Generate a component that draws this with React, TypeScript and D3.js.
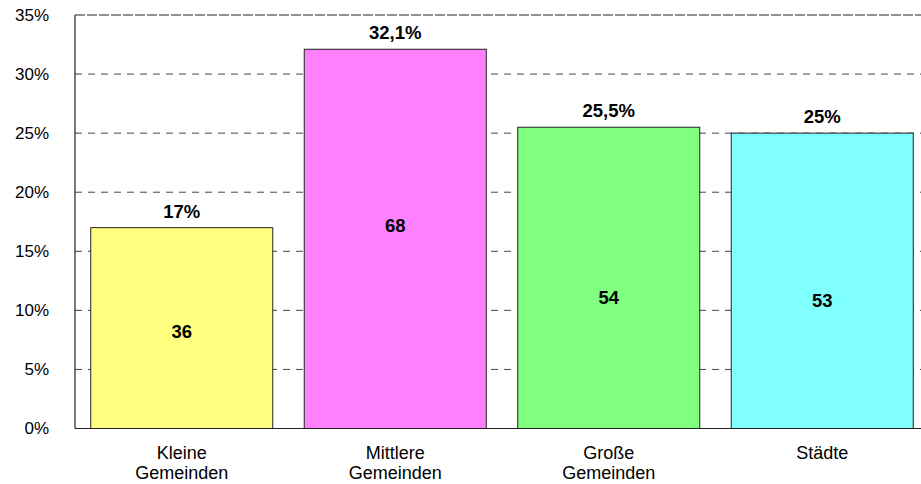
import React from "react";
import * as d3 from "d3";

const categories: string[][] = [
  ["Kleine", "Gemeinden"],
  ["Mittlere", "Gemeinden"],
  ["Große", "Gemeinden"],
  ["Städte"],
];
const percentValues: number[] = [17, 32.1, 25.5, 25];
const percentLabels: string[] = ["17%", "32,1%", "25,5%", "25%"];
const countValues: number[] = [36, 68, 54, 53];
// vertical position of the count labels, in percent units of the y axis
const countLabelPos: number[] = [8.2, 17.2, 11.05, 10.85];
const barColors: string[] = ["#FFFF80", "#FF80FF", "#80FF80", "#80FFFF"];
const yTicks: number[] = [0, 5, 10, 15, 20, 25, 30, 35];

export default function App() {
  const W = 921;
  const H = 484;
  const left = 75;
  const right = 929;
  const top = 15;
  const bottom = 428.5;

  const x = d3
    .scaleBand<number>()
    .domain(d3.range(categories.length))
    .range([left, right])
    .paddingInner(0.1475)
    .paddingOuter(0.07375);
  const y = d3.scaleLinear().domain([0, 35]).range([bottom, top]);

  const font = "Arial, 'Liberation Sans', Helvetica, sans-serif";

  return (
    <svg
      width={W}
      height={H}
      style={{ position: "absolute", left: 0, top: 0, background: "#fff" }}
      fontFamily={font}
    >
      {/* gridlines */}
      {yTicks.filter((t) => t > 0).map((t) => (
        <line
          key={t}
          x1={left}
          x2={W}
          y1={y(t)}
          y2={y(t)}
          stroke={t === 35 ? "#222" : "#444"}
          strokeWidth={1}
          strokeDasharray={t === 35 ? "10,2" : "7,6"}
        />
      ))}
      {/* bars */}
      {percentValues.map((v, i) => (
        <rect
          key={i}
          x={x(i)!}
          y={y(v)}
          width={x.bandwidth()}
          height={y(0) - y(v)}
          fill={barColors[i]}
          stroke="#222"
          strokeWidth={1}
        />
      ))}
      {/* axes */}
      <line x1={left} x2={left} y1={top} y2={bottom} stroke="#222" strokeWidth={1.2} />
      <line x1={left} x2={W} y1={bottom} y2={bottom} stroke="#222" strokeWidth={1.2} />
      {/* y tick labels */}
      {yTicks.map((t) => (
        <text
          key={t}
          x={49}
          y={y(t)}
          dy="0.35em"
          textAnchor="end"
          fontSize={17}
          fill="#000"
        >
          {t}%
        </text>
      ))}
      {/* percent labels */}
      {percentValues.map((v, i) => (
        <text
          key={i}
          x={x(i)! + x.bandwidth() / 2}
          y={y(v) - 10}
          textAnchor="middle"
          fontSize={18.5}
          fontWeight="bold"
          fill="#000"
        >
          {percentLabels[i]}
        </text>
      ))}
      {/* count labels */}
      {countValues.map((c, i) => (
        <text
          key={i}
          x={x(i)! + x.bandwidth() / 2}
          y={y(countLabelPos[i])}
          dy="0.35em"
          textAnchor="middle"
          fontSize={18.5}
          fontWeight="bold"
          fill="#000"
        >
          {c}
        </text>
      ))}
      {/* category labels */}
      {categories.map((lines, i) => (
        <text
          key={i}
          x={x(i)! + x.bandwidth() / 2}
          y={459}
          textAnchor="middle"
          fontSize={18}
          fill="#000"
        >
          {lines.map((l, j) => (
            <tspan key={j} x={x(i)! + x.bandwidth() / 2} dy={j === 0 ? 0 : 20}>
              {l}
            </tspan>
          ))}
        </text>
      ))}
    </svg>
  );
}
